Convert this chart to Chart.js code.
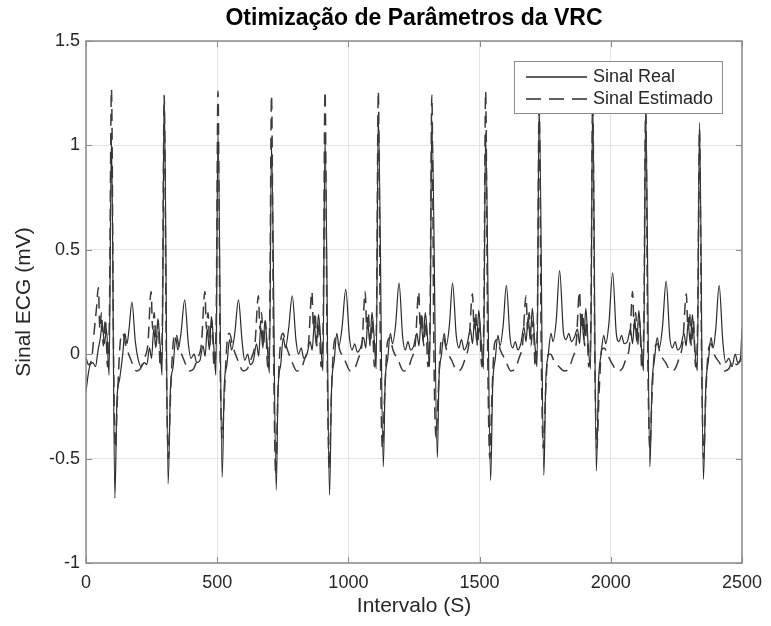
<!DOCTYPE html>
<html>
<head>
<meta charset="utf-8">
<script src="https://cdn.jsdelivr.net/npm/chart.js@4.4.1/dist/chart.umd.min.js"></script>
<style>
  html, body { margin: 0; padding: 0; background: #fff; }
</style>
</head>
<body>
<canvas id="ecg" width="771" height="626"></canvas>
<script>
// chart text
const chartTitle = "Otimização de Parâmetros da VRC";
const xLabel = "Intervalo (S)";
const yLabel = "Sinal ECG (mV)";
const seriesNames = ["Sinal Real", "Sinal Estimado"];

// axis ticks
const xTicks = [0, 500, 1000, 1500, 2000, 2500];
const yTicks = [-1, -0.5, 0, 0.5, 1, 1.5];

// Sinal Real: [interval, mV]
const sinalReal = [
  [0,-0.18],[8,-0.10],[16,-0.05],[26,-0.04],[36,-0.06],[46,0.02],[55,0.08],[62,0.15],[70,0.05],[78,0.12],[88,-0.10],
  [97,1.04],[110,-0.69],[118,-0.22],[128,-0.12],[140,0.0],[148,0.10],[156,0.05],[164,0.12],[175,0.25],[188,0.06],[198,-0.02],[210,-0.06],[222,-0.04],
  [232,-0.05],[242,0.03],[250,-0.02],[258,0.12],[266,0.03],[274,0.17],[282,0.05],[290,-0.10],
  [298,1.24],[313,-0.62],[322,-0.16],[332,-0.06],[342,0.08],[350,0.02],[362,0.10],[376,0.26],[390,0.05],[400,-0.02],[412,0.0],[422,-0.04],
  [434,-0.03],[446,0.04],[454,-0.01],[462,0.12],[470,0.02],[478,0.18],[486,0.06],[495,-0.10],
  [503,1.07],[519,-0.59],[527,-0.15],[537,-0.05],[547,0.07],[555,0.02],[567,0.10],[581,0.26],[595,0.06],[605,-0.03],[616,0.0],[626,-0.05],
  [638,-0.03],[650,0.05],[658,-0.01],[666,0.13],[674,0.03],[682,0.16],[690,0.05],[699,-0.09],
  [707,1.01],[725,-0.65],[732,-0.17],[742,-0.05],[752,0.08],[760,0.03],[772,0.12],[786,0.28],[800,0.07],[810,0.0],[820,0.03],[830,-0.02],
  [842,0.0],[854,0.06],[862,0.02],[870,0.14],[878,0.04],[886,0.19],[894,0.07],[903,-0.08],
  [911,1.04],[928,-0.675],[936,-0.16],[946,-0.03],[956,0.10],[964,0.04],[976,0.13],[990,0.31],[1004,0.08],[1014,0.02],[1024,0.05],[1034,0.01],
  [1046,0.03],[1058,0.08],[1066,0.03],[1074,0.15],[1082,0.05],[1090,0.20],[1098,0.08],[1106,-0.07],
  [1114,1.15],[1133,-0.54],[1140,-0.14],[1150,-0.02],[1160,0.10],[1168,0.05],[1180,0.14],[1193,0.34],[1207,0.08],[1217,0.02],[1227,0.06],[1237,0.02],
  [1249,0.04],[1261,0.10],[1269,0.04],[1277,0.16],[1285,0.06],[1293,0.20],[1301,0.09],[1310,-0.06],
  [1318,1.12],[1339,-0.495],[1345,-0.13],[1355,0.0],[1365,0.10],[1373,0.04],[1385,0.14],[1397,0.34],[1411,0.09],[1421,0.03],[1431,0.07],[1441,0.02],
  [1453,0.05],[1465,0.12],[1473,0.05],[1481,0.17],[1489,0.06],[1497,0.21],[1505,0.08],[1515,-0.07],
  [1523,1.06],[1542,-0.605],[1550,-0.15],[1560,-0.02],[1570,0.09],[1578,0.04],[1590,0.14],[1602,0.33],[1616,0.08],[1626,0.03],[1636,0.06],[1646,0.02],
  [1657,0.05],[1669,0.13],[1677,0.06],[1685,0.18],[1693,0.07],[1701,0.22],[1709,0.08],[1719,-0.06],
  [1727,1.20],[1745,-0.58],[1752,-0.14],[1762,0.0],[1772,0.10],[1780,0.06],[1792,0.16],[1805,0.40],[1820,0.10],[1830,0.07],[1840,0.10],[1850,0.06],
  [1861,0.08],[1873,0.12],[1881,0.05],[1889,0.19],[1897,0.07],[1905,0.22],[1913,0.06],[1923,-0.07],
  [1931,1.22],[1945,-0.56],[1953,-0.14],[1963,0.0],[1973,0.09],[1981,0.05],[1993,0.15],[2007,0.39],[2021,0.10],[2031,0.06],[2041,0.09],[2051,0.05],
  [2063,0.06],[2075,0.12],[2083,0.05],[2091,0.17],[2099,0.06],[2107,0.21],[2115,0.06],[2125,-0.08],
  [2133,1.18],[2149,-0.54],[2157,-0.15],[2167,-0.02],[2177,0.08],[2185,0.03],[2197,0.13],[2211,0.35],[2225,0.08],[2235,0.03],[2245,0.06],[2255,0.02],
  [2267,0.04],[2279,0.10],[2287,0.04],[2295,0.15],[2303,0.05],[2311,0.19],[2319,0.05],[2330,-0.08],
  [2338,1.11],[2353,-0.60],[2362,-0.16],[2372,-0.03],[2382,0.08],[2390,0.03],[2400,0.12],[2413,0.33],[2427,0.06],[2438,-0.04],[2450,-0.02],
  [2462,-0.06],[2474,0.0],[2484,-0.04],[2494,-0.02],[2500,0.12]
];

// Sinal Estimado: [interval, mV]
const sinalEstimado = [
  [0,-0.02],[10,-0.05],[22,-0.02],[32,0.12],[40,0.22],[47,0.32],[53,0.12],[59,0.20],[66,0.04],[74,0.17],[82,-0.06],[89,0.15],
  [97,1.27],[105,0.0],[112,-0.45],[120,-0.20],[130,0.05],[140,0.10],[152,0.04],[172,-0.03],[192,-0.08],[207,-0.07],[222,-0.02],[236,0.05],
  [248,0.30],[254,0.12],[260,0.20],[267,0.04],[275,0.16],[283,-0.06],[291,0.15],
  [298,1.24],[306,0.0],[314,-0.50],[322,-0.20],[332,0.05],[342,0.10],[354,0.04],[374,-0.03],[394,-0.08],[410,-0.07],[425,-0.02],[440,0.05],
  [453,0.30],[459,0.12],[465,0.20],[472,0.04],[480,0.16],[488,-0.06],[496,0.15],
  [503,1.26],[511,0.0],[519,-0.40],[527,-0.20],[537,0.05],[547,0.10],[559,0.04],[579,-0.03],[599,-0.08],[615,-0.07],[630,-0.02],[644,0.05],
  [657,0.28],[663,0.12],[669,0.20],[676,0.04],[684,0.16],[692,-0.06],[700,0.15],
  [707,1.24],[715,0.0],[723,-0.58],[731,-0.20],[741,0.05],[751,0.10],[763,0.04],[783,-0.03],[803,-0.08],[819,-0.07],[834,-0.02],[848,0.05],
  [861,0.30],[867,0.12],[873,0.20],[880,0.04],[888,0.16],[896,-0.06],[904,0.15],
  [911,1.26],[919,0.0],[927,-0.55],[935,-0.20],[945,0.05],[955,0.08],[967,0.02],[987,-0.03],[1007,-0.08],[1023,-0.07],[1038,-0.02],[1052,0.05],
  [1064,0.30],[1070,0.12],[1076,0.20],[1083,0.04],[1091,0.16],[1099,-0.06],[1107,0.15],
  [1114,1.26],[1122,0.0],[1130,-0.45],[1138,-0.20],[1148,0.05],[1158,0.08],[1170,0.02],[1190,-0.03],[1210,-0.08],[1226,-0.07],[1241,-0.02],[1255,0.05],
  [1268,0.30],[1274,0.12],[1280,0.20],[1287,0.04],[1295,0.16],[1303,-0.06],[1311,0.15],
  [1318,1.24],[1326,0.0],[1334,-0.40],[1342,-0.20],[1352,0.05],[1362,0.08],[1374,0.02],[1394,-0.03],[1414,-0.08],[1430,-0.07],[1445,-0.02],[1459,0.05],
  [1473,0.29],[1479,0.12],[1485,0.20],[1492,0.04],[1500,0.16],[1508,-0.06],[1516,0.15],
  [1523,1.26],[1531,0.0],[1539,-0.50],[1547,-0.20],[1557,0.05],[1567,0.07],[1579,0.02],[1599,-0.03],[1619,-0.08],[1635,-0.07],[1650,-0.02],[1664,0.05],
  [1677,0.28],[1683,0.12],[1689,0.20],[1696,0.04],[1704,0.16],[1712,-0.06],[1720,0.15],
  [1727,1.22],[1735,0.0],[1743,-0.45],[1751,-0.20],[1761,0.0],[1771,0.0],[1783,-0.03],[1803,-0.06],[1823,-0.08],[1839,-0.07],[1854,-0.02],[1868,0.05],
  [1881,0.30],[1887,0.12],[1893,0.20],[1900,0.04],[1908,0.16],[1916,-0.06],[1924,0.15],
  [1931,1.24],[1939,0.0],[1947,-0.45],[1955,-0.20],[1965,0.02],[1975,0.03],[1987,0.0],[2007,-0.05],[2027,-0.08],[2043,-0.07],[2058,-0.02],[2072,0.05],
  [2083,0.30],[2089,0.12],[2095,0.20],[2102,0.04],[2110,0.16],[2118,-0.06],[2126,0.15],
  [2133,1.20],[2141,0.0],[2149,-0.45],[2157,-0.20],[2167,0.02],[2177,0.05],[2189,0.0],[2209,-0.04],[2229,-0.08],[2245,-0.07],[2260,-0.02],[2274,0.05],
  [2288,0.29],[2294,0.12],[2300,0.20],[2307,0.04],[2315,0.16],[2323,-0.06],[2331,0.15],
  [2338,1.08],[2346,0.0],[2354,-0.50],[2362,-0.20],[2372,0.02],[2382,0.05],[2394,0.0],[2414,-0.04],[2434,-0.08],[2450,-0.07],[2465,-0.03],[2480,-0.05],[2500,-0.02]
];

const FONT = "'Liberation Sans', Arial, Helvetica, sans-serif";
const TEXT = "#262626";
const AXIS = "#8a8a8a";
const GRID = "#e4e4e4";

const toPts = arr => arr.map(p => ({ x: p[0], y: p[1] }));

// MATLAB style frame, inward ticks, title and legend
const matlabFrame = {
  id: "matlabFrame",
  afterDraw(chart) {
    const { ctx, chartArea: a, scales: { x, y } } = chart;
    ctx.save();

    ctx.strokeStyle = AXIS;
    ctx.lineWidth = 1.5;
    ctx.strokeRect(a.left, a.top, a.right - a.left, a.bottom - a.top);

    ctx.lineWidth = 1;
    ctx.beginPath();
    xTicks.forEach(v => {
      const px = Math.round(x.getPixelForValue(v)) + 0.5;
      ctx.moveTo(px, a.bottom); ctx.lineTo(px, a.bottom - 6);
      ctx.moveTo(px, a.top); ctx.lineTo(px, a.top + 6);
    });
    yTicks.forEach(v => {
      const py = Math.round(y.getPixelForValue(v)) + 0.5;
      ctx.moveTo(a.left, py); ctx.lineTo(a.left + 6, py);
      ctx.moveTo(a.right, py); ctx.lineTo(a.right - 6, py);
    });
    ctx.stroke();

    // title
    ctx.fillStyle = "#000";
    ctx.font = "bold 23px " + FONT;
    ctx.textAlign = "center";
    ctx.textBaseline = "middle";
    ctx.fillText(chartTitle, (a.left + a.right) / 2, 19);

    // legend
    const bx = a.right - 228, by = a.top + 20, bw = 208, bh = 52;
    ctx.fillStyle = "#fff";
    ctx.fillRect(bx, by, bw, bh);
    ctx.strokeStyle = AXIS;
    ctx.lineWidth = 1;
    ctx.strokeRect(bx + 0.5, by + 0.5, bw, bh);

    ctx.strokeStyle = "#2a2a2a";
    ctx.lineWidth = 1.5;
    ctx.beginPath();
    ctx.moveTo(bx + 12, by + 16); ctx.lineTo(bx + 73, by + 16);
    ctx.stroke();
    ctx.setLineDash([15, 8]);
    ctx.beginPath();
    ctx.moveTo(bx + 12, by + 38); ctx.lineTo(bx + 73, by + 38);
    ctx.stroke();
    ctx.setLineDash([]);

    ctx.fillStyle = TEXT;
    ctx.font = "18px " + FONT;
    ctx.textAlign = "left";
    ctx.fillText(seriesNames[0], bx + 79, by + 16);
    ctx.fillText(seriesNames[1], bx + 79, by + 38);

    ctx.restore();
  }
};

new Chart(document.getElementById("ecg"), {
  type: "scatter",
  data: {
    datasets: [
      {
        label: seriesNames[0],
        data: toPts(sinalReal),
        showLine: true,
        borderColor: "#2a2a2a",
        borderWidth: 1.2,
        pointRadius: 0,
        cubicInterpolationMode: "monotone",
        order: 1
      },
      {
        label: seriesNames[1],
        data: toPts(sinalEstimado),
        showLine: true,
        borderColor: "#3a3a3a",
        borderWidth: 1.5,
        borderDash: [12, 7],
        pointRadius: 0,
        cubicInterpolationMode: "monotone",
        order: 0
      }
    ]
  },
  options: {
    responsive: false,
    animation: false,
    devicePixelRatio: 1,
    layout: { padding: { top: 41, right: 23, left: 0, bottom: 0 } },
    plugins: { legend: { display: false }, tooltip: { enabled: false } },
    scales: {
      x: {
        type: "linear",
        min: 0, max: 2500,
        afterBuildTicks: s => { s.ticks = xTicks.map(v => ({ value: v })); },
        afterFit: s => { s.height = 63; },
        grid: { color: GRID, drawTicks: false },
        border: { display: false },
        ticks: { padding: 9, color: TEXT, maxRotation: 0, font: { family: FONT, size: 18 }, callback: v => String(v) },
        title: { display: true, text: xLabel, color: TEXT, font: { family: FONT, size: 21 }, padding: { top: 0, bottom: 7 } }
      },
      y: {
        type: "linear",
        min: -1, max: 1.5,
        afterBuildTicks: s => { s.ticks = yTicks.map(v => ({ value: v })); },
        afterFit: s => { s.width = 86; },
        grid: { color: GRID, drawTicks: false },
        border: { display: false },
        ticks: { padding: 6, color: TEXT, font: { family: FONT, size: 18 }, callback: v => String(v) },
        title: { display: true, text: yLabel, color: TEXT, font: { family: FONT, size: 21 }, padding: { top: 12, bottom: 0 } }
      }
    }
  },
  plugins: [matlabFrame]
});
</script>
</body>
</html>
